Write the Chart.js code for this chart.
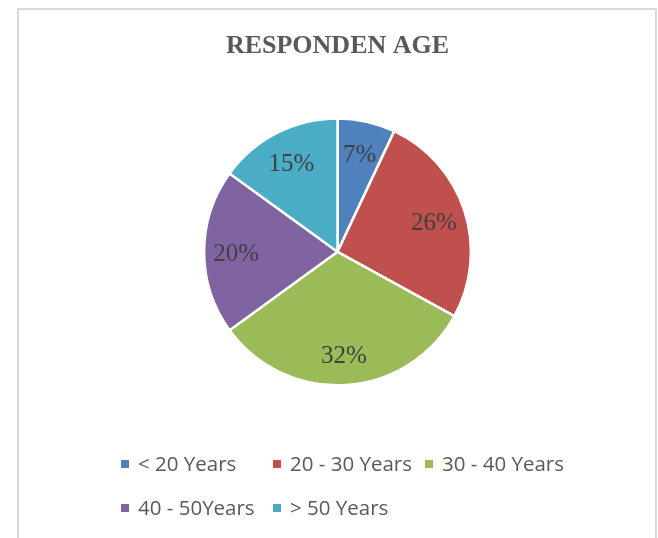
<!DOCTYPE html>
<html>
<head>
<meta charset="utf-8">
<script src="https://cdn.jsdelivr.net/npm/chart.js@4"></script>
<style>
  html, body { margin: 0; padding: 0; background: #fff; }
  #wrap { position: relative; width: 658px; height: 538px; }
  #frame { position: absolute; left: 17px; top: 8px; width: 636px; height: 540px;
           border: 2px solid #d9d9d9; border-bottom: none; box-sizing: content-box; pointer-events: none; }
  canvas { position: absolute; left: 0; top: 0; }
</style>
</head>
<body>
<div id="wrap">
  <canvas id="c" width="658" height="538"></canvas>
  <div id="frame"></div>
</div>
<script>
const categories = ['< 20 Years', '20 - 30 Years', '30 - 40 Years', '40 - 50Years', '> 50 Years'];
const percentValues = [7, 26, 32, 20, 15];
const sliceColors = ['#4f81bd', '#c0504d', '#9bbb59', '#8064a2', '#4bacc6'];
const chartTitle = 'RESPONDEN AGE';

const sliceLabels = {
  id: 'sliceLabels',
  afterDatasetsDraw(chart) {
    const ctx = chart.ctx;
    const meta = chart.getDatasetMeta(0);
    ctx.save();
    ctx.font = '25px "Liberation Serif", "Times New Roman", serif';
    ctx.fillStyle = '#404040';
    ctx.textAlign = 'center';
    ctx.textBaseline = 'middle';
    meta.data.forEach((arc, i) => {
      const p = arc.getProps(['x', 'y', 'startAngle', 'endAngle', 'outerRadius'], true);
      const mid = (p.startAngle + p.endAngle) / 2;
      const r = p.outerRadius * 0.76;
      ctx.fillText(chart.data.datasets[0].data[i] + '%', p.x + Math.cos(mid) * r, p.y + Math.sin(mid) * r + 3);
    });
    ctx.restore();
  }
};

const gridLegend = {
  id: 'gridLegend',
  afterDraw(chart) {
    const ctx = chart.ctx;
    const cols = [121, 273, 425];
    const rows = [464, 508];
    const ds = chart.data.datasets[0];
    ctx.save();
    ctx.font = '20.5px "Open Sans", sans-serif';
    ctx.textBaseline = 'middle';
    ctx.textAlign = 'left';
    chart.data.labels.forEach((lab, i) => {
      const col = i < 3 ? i : i - 3;
      const row = i < 3 ? 0 : 1;
      const x = cols[col], y = rows[row];
      ctx.fillStyle = ds.backgroundColor[i];
      ctx.fillRect(x, y - 4, 8, 8);
      ctx.fillStyle = '#595959';
      ctx.fillText(lab, x + 17, y + 1);
    });
    ctx.restore();
  }
};

new Chart(document.getElementById('c'), {
  type: 'pie',
  data: {
    labels: categories,
    datasets: [{
      data: percentValues,
      backgroundColor: sliceColors,
      borderColor: '#ffffff',
      borderWidth: 2.5
    }]
  },
  options: {
    responsive: false,
    animation: false,
    layout: { padding: { left: 17, right: 0, top: 0, bottom: 151.5 } },
    plugins: {
      legend: { display: false },
      tooltip: { enabled: false },
      title: {
        display: true,
        text: chartTitle,
        color: '#595959',
        font: { family: '"Liberation Serif", "Times New Roman", serif', size: 26, weight: 'bold', lineHeight: 1.2 },
        padding: { top: 31, bottom: 55 }
      }
    }
  },
  plugins: [sliceLabels, gridLegend]
});
</script>
</body>
</html>
